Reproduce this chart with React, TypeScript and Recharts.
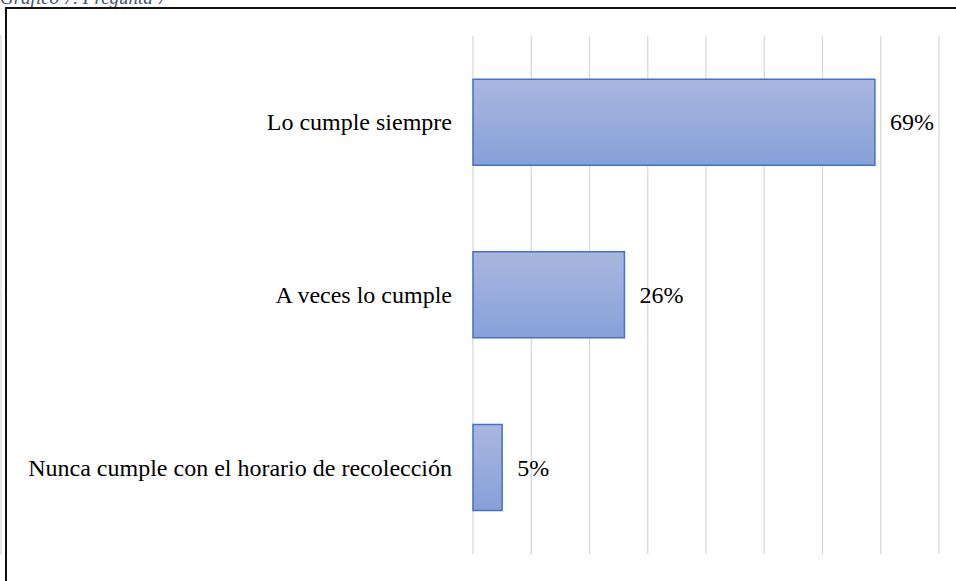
import { BarChart, Bar, XAxis, YAxis, CartesianGrid, LabelList } from "recharts";

// answers to question 7, share of respondents
const categories = [
  "Lo cumple siempre",
  "A veces lo cumple",
  "Nunca cumple con el horario de recolección",
];
const shares = [0.69, 0.26, 0.05];
const xTicks = [0, 0.1, 0.2, 0.3, 0.4, 0.5, 0.6, 0.7, 0.8];
const bandEdges = [0, 1, 2, 3];

const data = categories.map((name, i) => ({ name, value: shares[i] }));

const serif = "Liberation Serif";

// recharts' own Text kept falling back to a sans face, so draw plain svg text
const CategoryTick = (props: any) => {
  const { x, y, payload } = props;
  return (
    <text
      x={x}
      y={y}
      textAnchor="end"
      dominantBaseline="central"
      fontFamily={serif}
      fontSize={24}
      fill="#000"
    >
      {payload.value}
    </text>
  );
};

const ValueLabel = (props: any) => {
  const { x, y, width, height, value } = props;
  return (
    <text
      x={x + width + 15}
      y={y + height / 2}
      dominantBaseline="central"
      fontFamily={serif}
      fontSize={24}
      fill="#000"
    >
      {`${Math.round(value * 100)}%`}
    </text>
  );
};

export default function App() {
  return (
    <div
      style={{
        position: "absolute",
        left: 0,
        top: 0,
        width: 956,
        height: 581,
        overflow: "hidden",
        background: "#fff",
        fontFamily: serif,
      }}
    >
      <div
        style={{
          position: "absolute",
          left: 0,
          top: -12,
          fontStyle: "italic",
          fontSize: 19,
          lineHeight: 1,
          color: "#44546A",
          whiteSpace: "nowrap",
        }}
      >
        Gráfico 7. Pregunta 7
      </div>
      <div
        style={{
          position: "absolute",
          left: 5,
          top: 7,
          width: 1000,
          height: 700,
          border: "2px solid #111",
        }}
      />
      <div style={{ position: "absolute", left: 0, top: 0 }}>
        <BarChart
          width={956}
          height={581}
          layout="vertical"
          data={data}
          barCategoryGap="25%"
          margin={{ top: 36, right: 17, bottom: 26, left: 0 }}
        >
          <defs>
            <linearGradient id="barFill" x1="0" y1="0" x2="0" y2="1">
              <stop offset="0%" stopColor="#A9B7DF" />
              <stop offset="100%" stopColor="#87A0D9" />
            </linearGradient>
          </defs>
          <CartesianGrid horizontal={false} stroke="#D9D9D9" strokeWidth={1.3} />
          <XAxis
            type="number"
            domain={[0, 0.8]}
            ticks={xTicks}
            interval={0}
            axisLine={false}
            tickLine={false}
            tick={() => <g />}
            height={1}
          />
          {/* boundary ticks between categories, drawn on a plain numeric axis */}
          <YAxis
            yAxisId="edges"
            type="number"
            domain={[0, 3]}
            ticks={bandEdges}
            interval={0}
            width={1}
            tick={() => <g />}
            tickSize={5}
            axisLine={{ stroke: "#D9D9D9", strokeWidth: 1.3 }}
            tickLine={{ stroke: "#D9D9D9", strokeWidth: 1.3 }}
          />
          <YAxis
            yAxisId="cats"
            type="category"
            dataKey="name"
            width={472}
            axisLine={false}
            tickLine={false}
            tickSize={6}
            tickMargin={15}
            tick={<CategoryTick />}
          />
          <Bar
            yAxisId="cats"
            dataKey="value"
            fill="url(#barFill)"
            stroke="#4472C4"
            strokeWidth={1.5}
            isAnimationActive={false}
          >
            <LabelList dataKey="value" content={<ValueLabel />} />
          </Bar>
        </BarChart>
      </div>
    </div>
  );
}
